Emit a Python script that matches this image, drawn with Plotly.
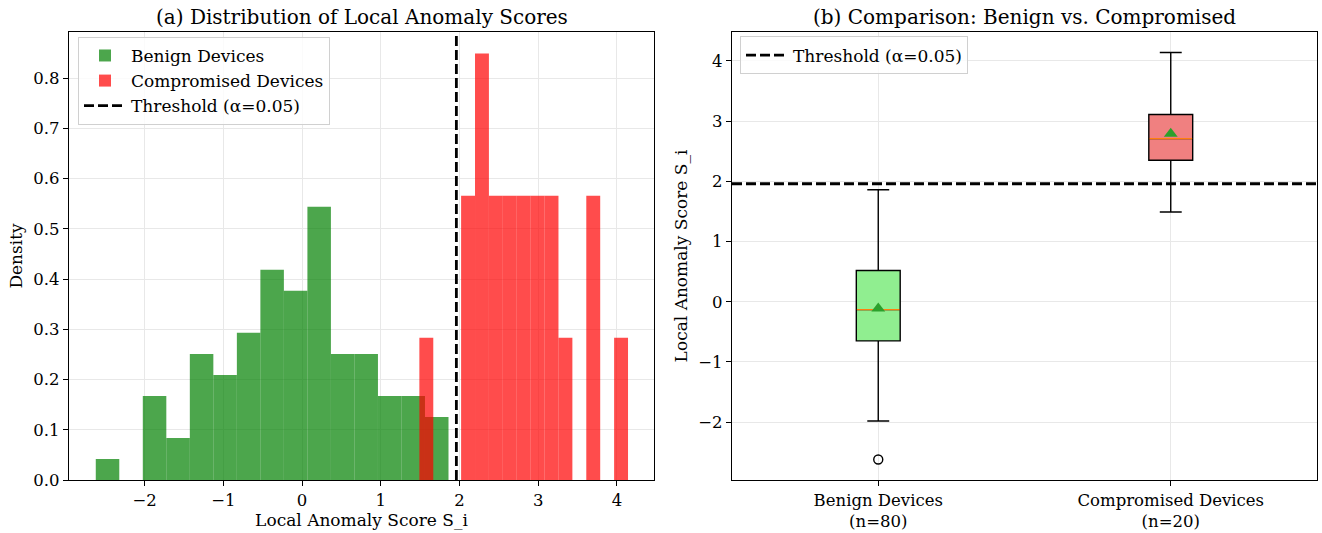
import numpy as np
import plotly.graph_objects as go

# ---------------- data ----------------
threshold = 1.96

benign_n = 80
benign_min, benign_max = -2.62, 1.86
benign_counts = [1, 0, 4, 2, 6, 5, 7, 10, 9, 13, 6, 6, 4, 4, 3]

comp_n = 20
comp_min, comp_max = 1.49, 4.14
comp_counts = [1, 0, 0, 2, 3, 2, 2, 2, 2, 2, 1, 0, 2, 0, 1]

box_labels = ["Benign Devices<br>(n=80)", "Compromised Devices<br>(n=20)"]
box_q1 = [-0.65, 2.35]
box_median = [-0.13, 2.71]
box_q3 = [0.52, 3.11]
box_low = [-1.98, 1.49]
box_high = [1.86, 4.14]
box_mean = [-0.11, 2.79]
box_outliers_y = [-2.62]
box_outliers_x = [1]
box_fill = ["#90EE90", "#F08080"]

FONT = "DejaVu Serif"
TICK = 16.5
LAB = 17
TITLE = 20
LEG = 17


def hist_bars(vmin, vmax, counts, n):
    edges = np.linspace(vmin, vmax, len(counts) + 1)
    w = edges[1] - edges[0]
    centers = (edges[:-1] + edges[1:]) / 2
    dens = np.array(counts) / (n * w)
    return centers, dens, w


fig = go.Figure()

bc, bd, bw = hist_bars(benign_min, benign_max, benign_counts, benign_n)
cc, cd, cw = hist_bars(comp_min, comp_max, comp_counts, comp_n)

fig.add_trace(go.Bar(x=bc, y=bd, width=bw, name="Benign Devices",
                     marker=dict(color="rgba(0,128,0,0.7)", line=dict(width=0)),
                     xaxis="x", yaxis="y", legend="legend"))
fig.add_trace(go.Bar(x=cc, y=cd, width=cw, name="Compromised Devices",
                     marker=dict(color="rgba(255,0,0,0.7)", line=dict(width=0)),
                     xaxis="x", yaxis="y", legend="legend"))

ymax_left = 0.892
fig.add_trace(go.Scatter(x=[threshold, threshold], y=[0, ymax_left], mode="lines",
                         name="Threshold (α=0.05)",
                         line=dict(color="black", width=2.8, dash="10px,4px"),
                         xaxis="x", yaxis="y", legend="legend"))

# ---------------- box plots ----------------
for i in range(2):
    fig.add_trace(go.Box(x=[i + 1], q1=[box_q1[i]], median=[box_median[i]], q3=[box_q3[i]],
                         lowerfence=[box_low[i]], upperfence=[box_high[i]],
                         width=0.15, whiskerwidth=0.5, fillcolor=box_fill[i],
                         line=dict(color="black", width=1.4), boxpoints=False,
                         showlegend=False, xaxis="x2", yaxis="y2"))
    fig.add_trace(go.Scatter(x=[i + 1 - 0.073, i + 1 + 0.073], y=[box_median[i]] * 2,
                             mode="lines", line=dict(color="#ff7f0e", width=1.4),
                             showlegend=False, xaxis="x2", yaxis="y2"))

fig.add_trace(go.Scatter(x=[1, 2], y=box_mean, mode="markers",
                         marker=dict(symbol="triangle-up", size=12, color="#2ca02c"),
                         showlegend=False, xaxis="x2", yaxis="y2"))
fig.add_trace(go.Scatter(x=box_outliers_x, y=box_outliers_y, mode="markers",
                         marker=dict(symbol="circle-open", size=9, color="black",
                                     line=dict(width=1.4)),
                         showlegend=False, xaxis="x2", yaxis="y2"))
fig.add_trace(go.Scatter(x=[0.5, 2.5], y=[threshold, threshold], mode="lines",
                         name="Threshold (α=0.05)",
                         line=dict(color="black", width=2.8, dash="10px,4px"),
                         xaxis="x2", yaxis="y2", legend="legend2"))

axis_common = dict(showline=True, mirror=True, linecolor="black", linewidth=1.2,
                   ticks="outside", ticklen=5, tickcolor="black", tickwidth=1,
                   showgrid=True, gridcolor="#e8e8e8", gridwidth=1, zeroline=False,
                   automargin=False,
                   tickfont=dict(family=FONT, size=TICK, color="black"))

fig.update_layout(
    width=1322, height=533,
    paper_bgcolor="white", plot_bgcolor="white",
    margin=dict(l=0, r=0, t=32, b=53),
    barmode="overlay",
    font=dict(family=FONT, color="black", size=LEG),
    xaxis=dict(domain=[69 / 1322, 654 / 1322], range=[-2.96, 4.47], dtick=1,
               title=dict(text="Local Anomaly Score S_i", font=dict(family=FONT, size=LAB), standoff=4),
               anchor="y", **axis_common),
    yaxis=dict(domain=[0, 1], range=[0, ymax_left], dtick=0.1, tickformat=".1f",
               title=dict(text="Density", font=dict(family=FONT, size=LAB), standoff=6),
               anchor="x", **axis_common),
    xaxis2=dict(domain=[732 / 1322, 1317 / 1322], range=[0.5, 2.5], tickvals=[1, 2],
                ticktext=box_labels, anchor="y2", **axis_common),
    yaxis2=dict(domain=[0, 1], range=[-2.96, 4.48], dtick=1,
                title=dict(text="Local Anomaly Score S_i", font=dict(family=FONT, size=LAB), standoff=6),
                anchor="x2", **axis_common),
    legend=dict(x=78 / 1322, y=0.989, xanchor="left", yanchor="top",
                bgcolor="rgba(255,255,255,0.8)", bordercolor="#d0d0d0", borderwidth=1,
                font=dict(family=FONT, size=LEG), tracegroupgap=0, itemwidth=42),
    legend2=dict(x=740 / 1322, y=0.99, xanchor="left", yanchor="top",
                 bgcolor="rgba(255,255,255,0.8)", bordercolor="#d0d0d0", borderwidth=1,
                 font=dict(family=FONT, size=LEG), itemwidth=42),
    annotations=[
        dict(text="(a) Distribution of Local Anomaly Scores", x=(69 + 654) / 2 / 1322, y=1,
             xref="paper", yref="paper", xanchor="center", yanchor="bottom", yshift=1,
             showarrow=False, font=dict(family=FONT, size=TITLE, color="black")),
        dict(text="(b) Comparison: Benign vs. Compromised", x=(732 + 1317) / 2 / 1322, y=1,
             xref="paper", yref="paper", xanchor="center", yanchor="bottom", yshift=1,
             showarrow=False, font=dict(family=FONT, size=TITLE, color="black")),
    ],
)

fig.write_html("out.html", config={"displayModeBar": False},
               post_script="document.body.style.margin='0';document.body.style.overflow='hidden';")
